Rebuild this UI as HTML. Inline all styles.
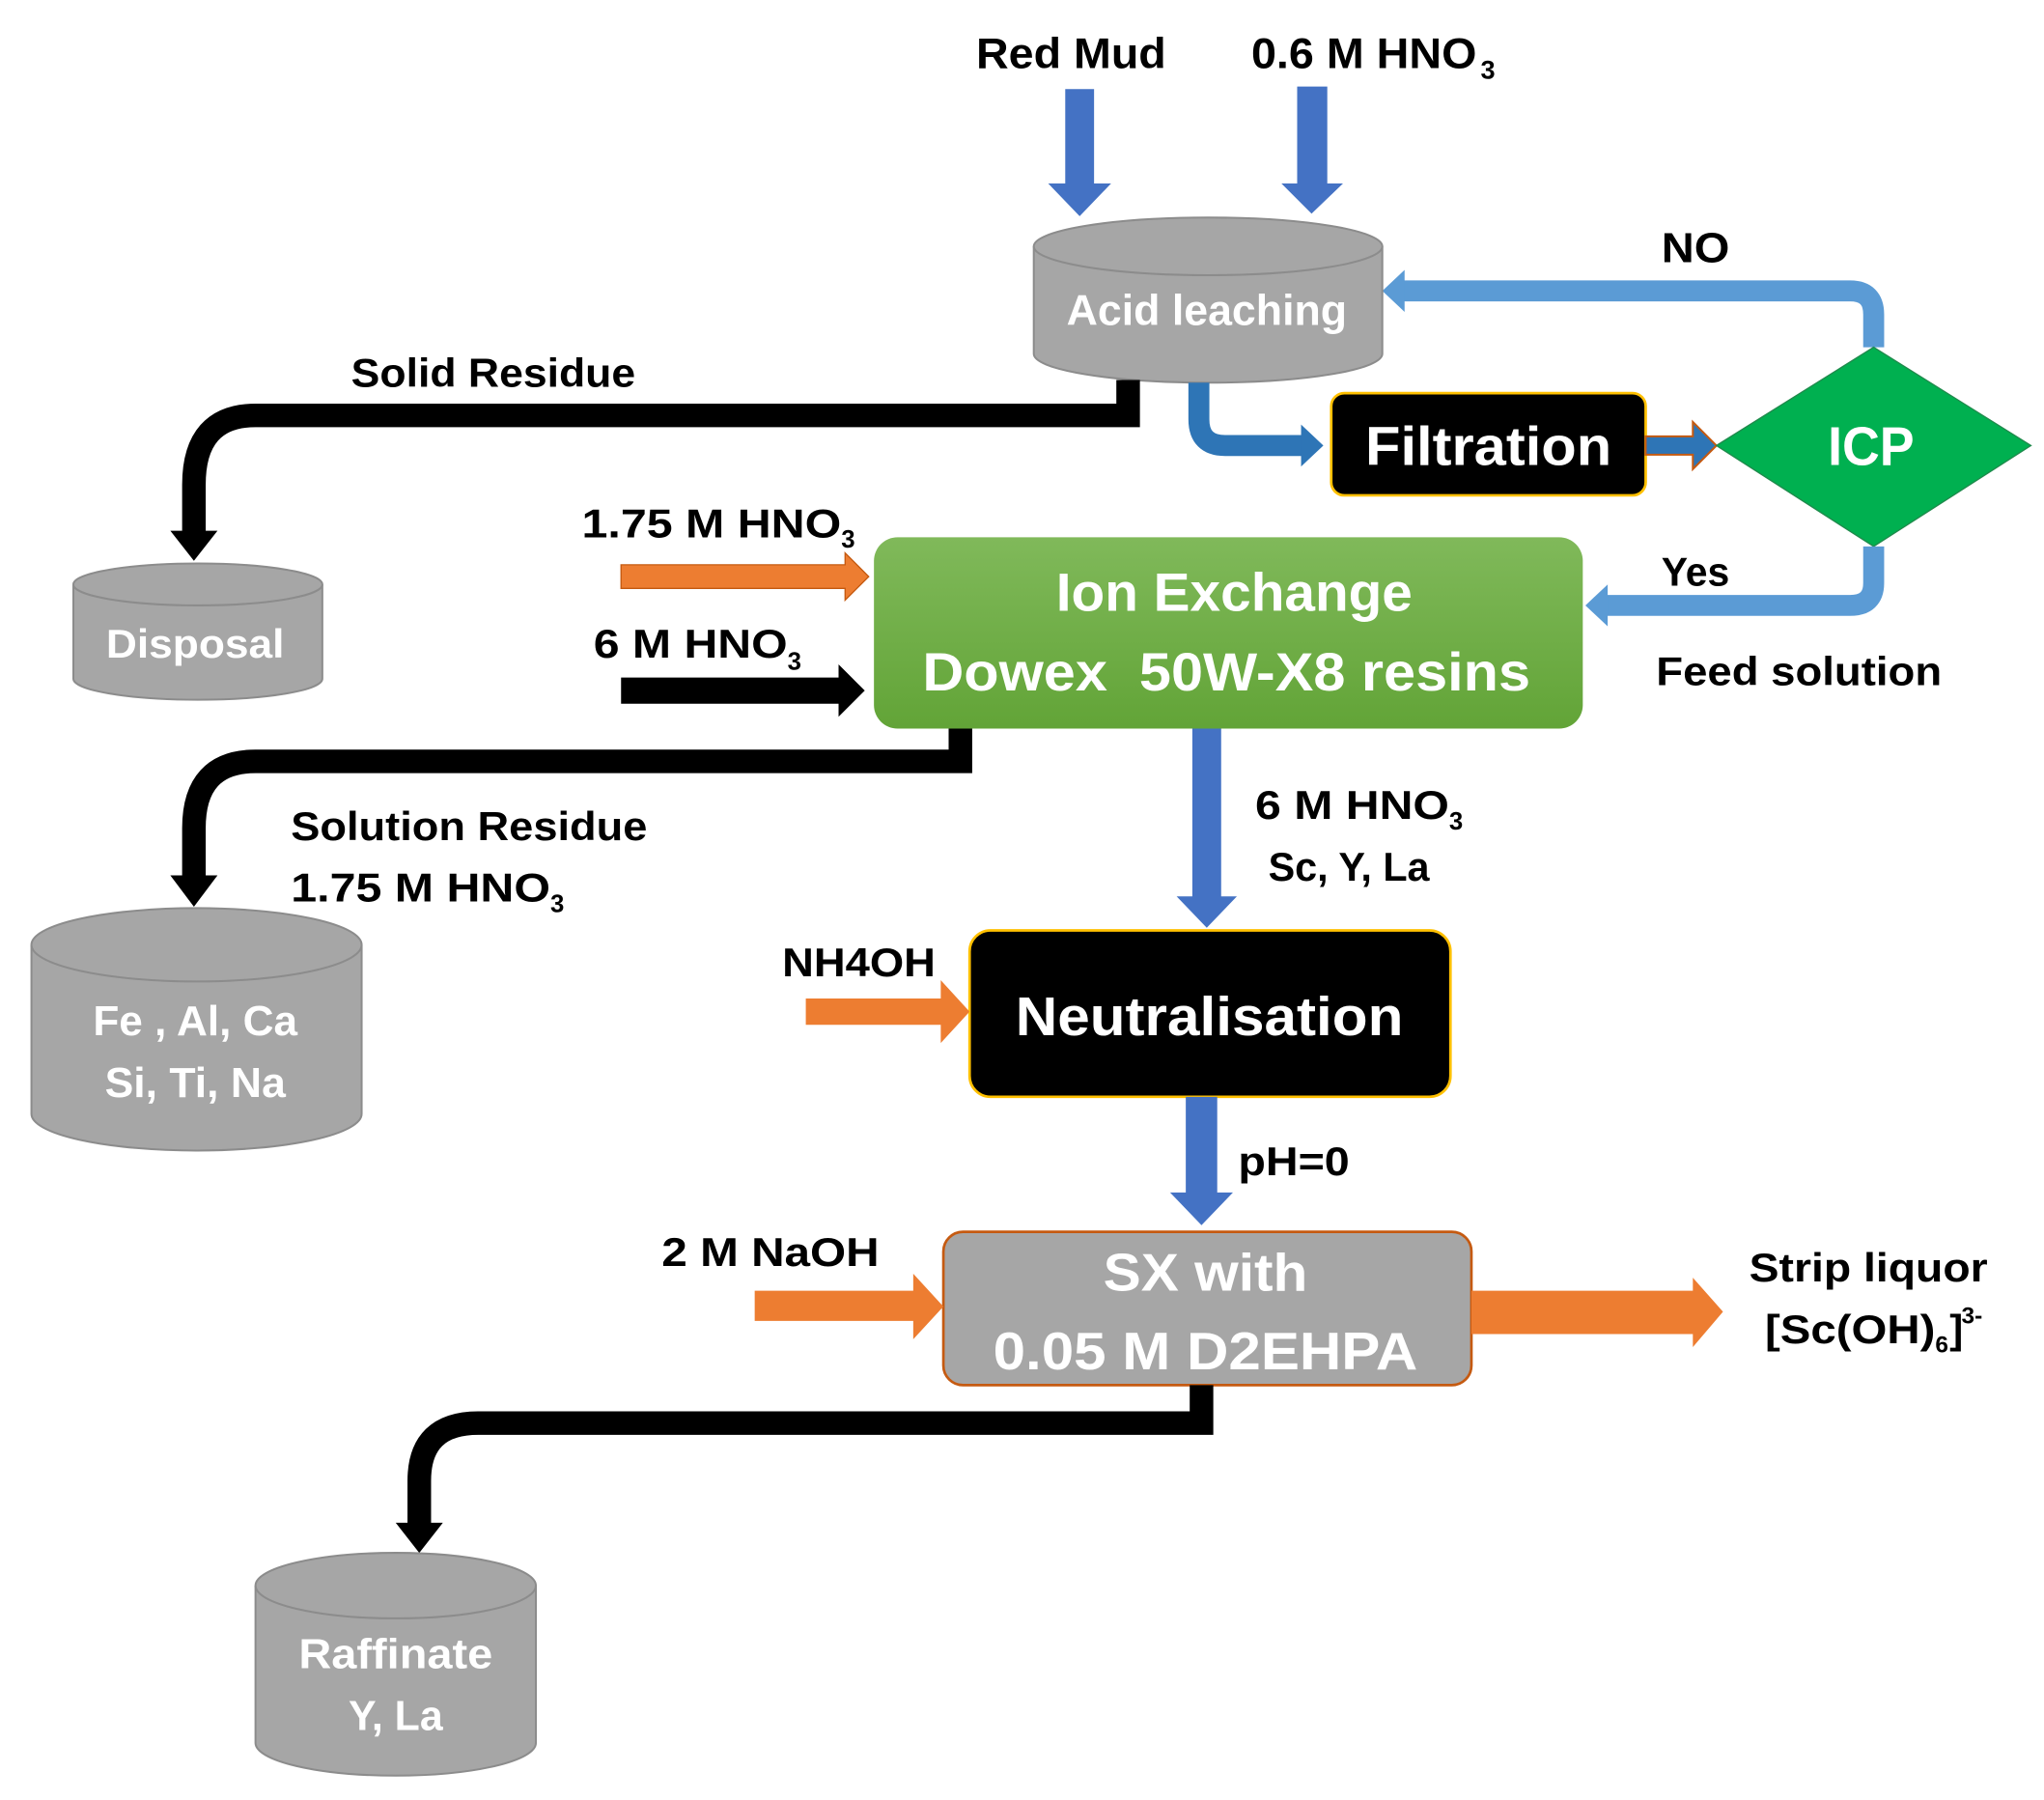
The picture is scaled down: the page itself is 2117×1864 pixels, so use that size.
<!DOCTYPE html>
<html><head><meta charset="utf-8"><style>
html,body{margin:0;padding:0;background:#fff;}
svg{display:block;}
text{font-family:"Liberation Sans",sans-serif;font-weight:bold;}
</style></head><body>
<svg width="2117" height="1864" viewBox="0 0 1560 1373.6" preserveAspectRatio="none" xmlns="http://www.w3.org/2000/svg">
<defs>
<linearGradient id="g" x1="0" y1="0" x2="0" y2="1"><stop offset="0" stop-color="#80b95a"/><stop offset="1" stop-color="#62a437"/></linearGradient>
</defs>
<!-- top labels -->
<text x="745" y="52" font-size="33" textLength="145" lengthAdjust="spacingAndGlyphs">Red Mud</text>
<text x="955" y="52" font-size="33" textLength="172" lengthAdjust="spacingAndGlyphs">0.6 M HNO</text>
<text x="1130" y="60" font-size="20">3</text>
<!-- blue down arrows -->
<polygon points="813,68 835,68 835,140 848,140 824,165 800,140 813,140" fill="#4472c4"/>
<polygon points="990,66 1013,66 1013,140 1025,140 1001,163 978,140 990,140" fill="#4472c4"/>
<!-- NO loop -->
<path d="M1430,265 V240 Q1430,222 1412,222 H1070" fill="none" stroke="#5b9bd5" stroke-width="16"/>
<polygon points="1072,206 1055,222 1072,238" fill="#5b9bd5"/>
<text x="1268" y="200" font-size="32" textLength="52" lengthAdjust="spacingAndGlyphs">NO</text>
<!-- Acid leaching cylinder -->
<path d="M789,188 V270 A133,22 0 0 0 1055,270 V188" fill="#a6a6a6" stroke="#8c8c8c" stroke-width="1.5"/>
<ellipse cx="922" cy="188" rx="133" ry="22" fill="#a6a6a6" stroke="#8c8c8c" stroke-width="1.5"/>
<text x="921" y="248" font-size="33" fill="#fff" text-anchor="middle" textLength="214" lengthAdjust="spacingAndGlyphs">Acid leaching</text>
<!-- solid residue -->
<path d="M861,290 V317 H195 Q148,317 148,370 V408" fill="none" stroke="#000" stroke-width="18"/>
<polygon points="130,405 166,405 148,428" fill="#000"/>
<text x="268" y="295" font-size="31" textLength="217" lengthAdjust="spacingAndGlyphs">Solid Residue</text>
<!-- to filtration -->
<path d="M915,292 V320 Q915,340 935,340 H995" fill="none" stroke="#2e75b6" stroke-width="16"/>
<polygon points="993,324 1010,340 993,356" fill="#2e75b6"/>
<!-- Filtration -->
<rect x="1016" y="300" width="240" height="78" rx="10" fill="#000" stroke="#ffc000" stroke-width="2"/>
<text x="1136" y="355" font-size="42" fill="#fff" text-anchor="middle" textLength="188" lengthAdjust="spacingAndGlyphs">Filtration</text>
<!-- filtration -> ICP -->
<polygon points="1256,333 1292,333 1292,322 1310,340 1292,358 1292,347 1256,347" fill="#2e75b6" stroke="#c55a11" stroke-width="1.5"/>
<!-- ICP diamond -->
<polygon points="1430,265 1550,340 1430,417 1310,340" fill="#00b050" stroke="#1f8a4c" stroke-width="1"/>
<text x="1428" y="355" font-size="42" fill="#fff" text-anchor="middle" textLength="66" lengthAdjust="spacingAndGlyphs">ICP</text>
<!-- Yes loop -->
<path d="M1430,417 V445 Q1430,462 1412,462 H1225" fill="none" stroke="#5b9bd5" stroke-width="16"/>
<polygon points="1227,446 1210,462 1227,478" fill="#5b9bd5"/>
<text x="1268" y="447" font-size="31" textLength="52" lengthAdjust="spacingAndGlyphs">Yes</text>
<text x="1264" y="523" font-size="31" textLength="218" lengthAdjust="spacingAndGlyphs">Feed solution</text>
<!-- Ion exchange -->
<rect x="667" y="410" width="541" height="146" rx="18" fill="url(#g)"/>
<text x="942" y="466" font-size="41" fill="#fff" text-anchor="middle" textLength="272" lengthAdjust="spacingAndGlyphs">Ion Exchange</text>
<text x="936" y="527" font-size="41" fill="#fff" text-anchor="middle" textLength="464" lengthAdjust="spacingAndGlyphs" xml:space="preserve">Dowex  50W-X8 resins</text>
<!-- left inputs -->
<text x="444" y="410" font-size="31" textLength="198" lengthAdjust="spacingAndGlyphs">1.75 M HNO</text>
<text x="642" y="418" font-size="19">3</text>
<polygon points="474,431 645,431 645,422 663,440 645,458 645,449 474,449" fill="#ed7d31" stroke="#c55a11" stroke-width="1"/>
<text x="453" y="502" font-size="31" textLength="148" lengthAdjust="spacingAndGlyphs">6 M HNO</text>
<text x="601" y="511" font-size="19">3</text>
<polygon points="474,517 640,517 640,507 660,527 640,547 640,537 474,537" fill="#000"/>
<!-- Disposal -->
<path d="M56,446 V518 A95,16 0 0 0 246,518 V446" fill="#a6a6a6" stroke="#8c8c8c" stroke-width="1.5"/>
<ellipse cx="151" cy="446" rx="95" ry="16" fill="#a6a6a6" stroke="#8c8c8c" stroke-width="1.5"/>
<text x="149" y="502" font-size="31" fill="#fff" text-anchor="middle" textLength="136" lengthAdjust="spacingAndGlyphs">Disposal</text>
<!-- solution residue -->
<path d="M733,556 V581 H195 Q148,581 148,632 V670" fill="none" stroke="#000" stroke-width="18"/>
<polygon points="130,668 166,668 148,692" fill="#000"/>
<text x="222" y="641" font-size="31" textLength="272" lengthAdjust="spacingAndGlyphs">Solution Residue</text>
<text x="222" y="688" font-size="31" textLength="198" lengthAdjust="spacingAndGlyphs">1.75 M HNO</text>
<text x="420" y="696" font-size="19">3</text>
<!-- Fe cylinder -->
<path d="M24,721 V850 A126,28 0 0 0 276,850 V721" fill="#a6a6a6" stroke="#8c8c8c" stroke-width="1.5"/>
<ellipse cx="150" cy="721" rx="126" ry="28" fill="#a6a6a6" stroke="#8c8c8c" stroke-width="1.5"/>
<text x="149" y="790" font-size="32" fill="#fff" text-anchor="middle" textLength="156" lengthAdjust="spacingAndGlyphs">Fe , Al, Ca</text>
<text x="149" y="837" font-size="32" fill="#fff" text-anchor="middle" textLength="138" lengthAdjust="spacingAndGlyphs">Si, Ti, Na</text>
<!-- down to neutralisation -->
<polygon points="910,556 932,556 932,684 944,684 921,708 898,684 910,684" fill="#4472c4"/>
<text x="958" y="625" font-size="31" textLength="148" lengthAdjust="spacingAndGlyphs">6 M HNO</text>
<text x="1106" y="633" font-size="19">3</text>
<text x="968" y="672" font-size="31" textLength="123" lengthAdjust="spacingAndGlyphs">Sc, Y, La</text>
<!-- Neutralisation -->
<rect x="740" y="710" width="367" height="127" rx="16" fill="#000" stroke="#ffc000" stroke-width="2"/>
<text x="923" y="790" font-size="42" fill="#fff" text-anchor="middle" textLength="296" lengthAdjust="spacingAndGlyphs">Neutralisation</text>
<text x="597" y="745" font-size="31" textLength="117" lengthAdjust="spacingAndGlyphs">NH4OH</text>
<polygon points="615,762 718,762 718,748 740,772 718,796 718,782 615,782" fill="#ed7d31"/>
<!-- pH arrow -->
<polygon points="905,837 929,837 929,910 941,910 917,935 893,910 905,910" fill="#4472c4"/>
<text x="945" y="897" font-size="31" textLength="85" lengthAdjust="spacingAndGlyphs">pH=0</text>
<!-- SX box -->
<rect x="720" y="940" width="403" height="117" rx="15" fill="#a6a6a6" stroke="#c55a11" stroke-width="2"/>
<text x="920" y="985" font-size="40" fill="#fff" text-anchor="middle" textLength="156" lengthAdjust="spacingAndGlyphs">SX with</text>
<text x="920" y="1045" font-size="40" fill="#fff" text-anchor="middle" textLength="324" lengthAdjust="spacingAndGlyphs">0.05 M D2EHPA</text>
<text x="505" y="966" font-size="31" textLength="166" lengthAdjust="spacingAndGlyphs">2 M NaOH</text>
<polygon points="576,985 697,985 697,972 720,997 697,1022 697,1008 576,1008" fill="#ed7d31"/>
<polygon points="1123,985 1292,985 1292,975 1315,1001 1292,1028 1292,1018 1123,1018" fill="#ed7d31"/>
<text x="1335" y="978" font-size="31" textLength="182" lengthAdjust="spacingAndGlyphs">Strip liquor</text>
<text x="1347" y="1025" font-size="31" textLength="130" lengthAdjust="spacingAndGlyphs">[Sc(OH)</text>
<text x="1477" y="1032" font-size="18">6</text>
<text x="1488" y="1025" font-size="31">]</text>
<text x="1497" y="1010" font-size="18">3-</text>
<!-- raffinate line -->
<path d="M917,1057 V1086 H365 Q320,1086 320,1130 V1165" fill="none" stroke="#000" stroke-width="18"/>
<polygon points="302,1162 338,1162 320,1185" fill="#000"/>
<!-- Raffinate cylinder -->
<path d="M195,1210 V1330 A107,25 0 0 0 409,1330 V1210" fill="#a6a6a6" stroke="#8c8c8c" stroke-width="1.5"/>
<ellipse cx="302" cy="1210" rx="107" ry="25" fill="#a6a6a6" stroke="#8c8c8c" stroke-width="1.5"/>
<text x="302" y="1273" font-size="32" fill="#fff" text-anchor="middle" textLength="148" lengthAdjust="spacingAndGlyphs">Raffinate</text>
<text x="302" y="1320" font-size="32" fill="#fff" text-anchor="middle" textLength="72" lengthAdjust="spacingAndGlyphs">Y, La</text>
</svg>
</body></html>
